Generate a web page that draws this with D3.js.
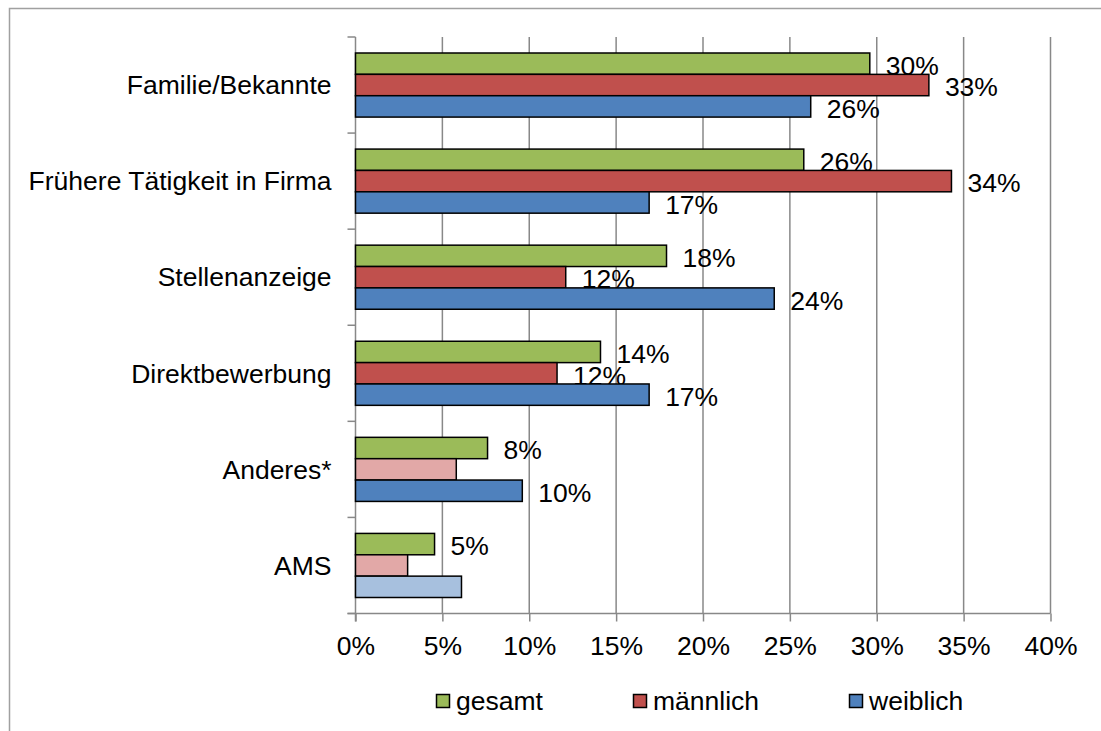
<!DOCTYPE html>
<html>
<head>
<meta charset="utf-8">
<script src="https://cdn.jsdelivr.net/npm/d3@7"></script>
<style>
  html, body { margin: 0; padding: 0; background: #fff; }
  svg { display: block; font-family: "Liberation Sans", Arial, sans-serif; }
</style>
</head>
<body>
<svg id="chart" width="1101" height="731"></svg>
<script>
// ---- data ----
const categories = ["Familie/Bekannte", "Frühere Tätigkeit in Firma", "Stellenanzeige", "Direktbewerbung", "Anderes*", "AMS"];
const seriesNames = ["gesamt", "männlich", "weiblich"];
const gesamt   = [0.296, 0.258, 0.179, 0.141, 0.076, 0.0455];
const maennlich = [0.330, 0.343, 0.121, 0.116, 0.058, 0.030];
const weiblich = [0.262, 0.169, 0.241, 0.169, 0.096, 0.061];
// whether a value label is shown (bars without a label are drawn faded)
const gesamtShown   = [true, true, true, true, true, true];
const maennlichShown = [true, true, true, true, false, false];
const weiblichShown = [true, true, true, true, true, false];
const xTicks = [0, 0.05, 0.10, 0.15, 0.20, 0.25, 0.30, 0.35, 0.40];

const seriesValues = [gesamt, maennlich, weiblich];
const seriesShown = [gesamtShown, maennlichShown, weiblichShown];
const colors = ["#9BBB59", "#C0504D", "#4F81BD"];
const fadedColors = ["#CDDDAC", "#E2A8A7", "#A7C0DE"];

const svg = d3.select("#chart");
const FONT = 26.5;

// chart frame
svg.append("path").attr("d", "M9.5,731 V8.5 H1101")
  .attr("fill", "none").attr("stroke", "#A0A0A0").attr("stroke-width", 1.5);

const x = d3.scaleLinear().domain([0, 0.4]).range([355.5, 1050.5]);
const y = d3.scaleBand().domain(categories).range([37, 613.5]).padding(0);
const ySub = d3.scaleBand().domain(seriesNames).range([16, y.bandwidth() - 16]).padding(0);

// gridlines
svg.append("g").selectAll("line").data(xTicks.slice(1)).join("line")
  .attr("x1", d => x(d)).attr("x2", d => x(d))
  .attr("y1", 37).attr("y2", 613.5)
  .attr("stroke", "#888").attr("stroke-width", 1.5);

// x axis
const xAxis = svg.append("g").attr("transform", "translate(0,613.5)")
  .call(d3.axisBottom(x).tickValues(xTicks).tickFormat(d3.format(".0%")).tickSize(8).tickPadding(15));
xAxis.select(".domain").attr("d", `M347.5,0H${x(0.4)}`).attr("stroke", "#888").attr("stroke-width", 1.5);
xAxis.selectAll(".tick line").attr("stroke", "#888").attr("stroke-width", 1.5);
xAxis.selectAll(".tick text").attr("font-size", FONT).attr("fill", "#000")
  .attr("font-family", "Liberation Sans, Arial, sans-serif");

// y axis
const yAxis = svg.append("g").attr("transform", "translate(355.5,0)");
yAxis.append("line").attr("x1", 0).attr("x2", 0).attr("y1", 37).attr("y2", 621.5)
  .attr("stroke", "#888").attr("stroke-width", 1.5);
const yTickPos = categories.map(c => y(c)).concat([y.range()[1]]);
yAxis.selectAll("line.t").data(yTickPos).join("line").attr("class", "t")
  .attr("x1", -8).attr("x2", 0).attr("y1", d => d).attr("y2", d => d)
  .attr("stroke", "#888").attr("stroke-width", 1.5);
yAxis.selectAll("text").data(categories).join("text")
  .attr("x", -24).attr("y", d => y(d) + y.bandwidth() / 2)
  .attr("dy", "0.35em").attr("text-anchor", "end")
  .attr("font-size", FONT).attr("fill", "#000").text(d => d);

// bars
const fmt = d3.format(".0%");
seriesNames.forEach((s, si) => {
  const g = svg.append("g");
  const rows = categories.map((c, ci) => ({ c, v: seriesValues[si][ci], shown: seriesShown[si][ci] }));
  g.selectAll("rect").data(rows).join("rect")
    .attr("x", x(0)).attr("y", d => y(d.c) + ySub(s))
    .attr("width", d => x(d.v) - x(0)).attr("height", ySub.bandwidth())
    .attr("fill", d => d.shown ? colors[si] : fadedColors[si])
    .attr("stroke", "#000").attr("stroke-width", 1.5);
  g.selectAll("text").data(rows.filter(d => d.shown)).join("text")
    .attr("x", d => x(d.v) + 16).attr("y", d => y(d.c) + ySub(s) + ySub.bandwidth() / 2 + 2)
    .attr("dy", "0.35em").attr("font-size", FONT).attr("fill", "#000")
    .text(d => fmt(d.v));
});

// legend
const legendX = [436, 633, 849];
const lg = svg.append("g");
seriesNames.forEach((s, i) => {
  lg.append("rect").attr("x", legendX[i] + 0.5).attr("y", 694.5).attr("width", 13).attr("height", 13)
    .attr("fill", colors[i]).attr("stroke", "#000").attr("stroke-width", 1.5);
  lg.append("text").attr("x", legendX[i] + 20).attr("y", 701).attr("dy", "0.35em")
    .attr("font-size", FONT).attr("fill", "#000").text(s);
});
</script>
</body>
</html>
